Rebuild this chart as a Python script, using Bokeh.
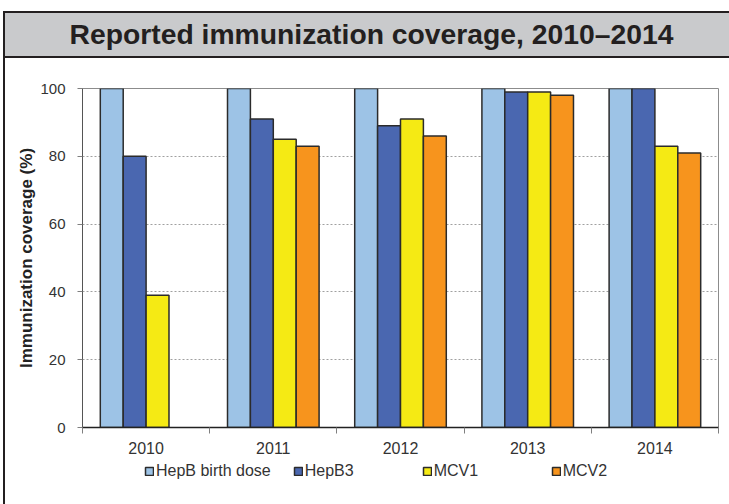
from bokeh.plotting import figure
from bokeh.models import ColumnDataSource, FixedTicker, Range1d, Legend, Div
from bokeh.layouts import column
from bokeh.transform import dodge
from bokeh.embed import file_html
from bokeh.resources import INLINE

# ---- data ----
years = ["2010", "2011", "2012", "2013", "2014"]
hepb_birth = [100, 100, 100, 100, 100]
hepb3 = [80, 91, 89, 99, 100]
mcv1 = [39, 85, 91, 99, 83]
mcv2 = [float("nan"), 83, 86, 98, 81]
series_names = ["HepB birth dose", "HepB3", "MCV1", "MCV2"]
y_ticks = [0, 20, 40, 60, 80, 100]

title_text = "Reported immunization coverage, 2010\u20132014"
y_title = "Immunization coverage (%)"

colors = ["#9dc3e6", "#4a67b0", "#f5ea14", "#f7941d"]
DARK = "#231f20"
EDGE = "#2b2b2b"
cols = ["hepb_birth", "hepb3", "mcv1", "mcv2"]
offsets = [-0.27, -0.09, 0.09, 0.27]


def left_rule(height):
    return {"background-color": "#ffffff",
            "background-image": "linear-gradient(#231f20, #231f20)",
            "background-size": "2px %dpx" % height,
            "background-position": "3px 0px",
            "background-repeat": "no-repeat"}


# ---- title banner (page y 0-58) ----
banner = Div(
    width=729, height=58, margin=0,
    text=('<div style="position:absolute;left:3px;top:11px;width:726px;'
          'height:47px;box-sizing:border-box;border:2px solid #231f20;'
          'border-right:none;background:#c9cacc;display:flex;'
          'align-items:center;justify-content:center;padding-left:9px;'
          "font-family:'Liberation Sans',Arial,sans-serif;font-weight:bold;"
          'font-size:28.3px;color:#231f20;white-space:nowrap;">'
          + title_text + '</div>'))

# ---- chart (page y 58-462) ----
xpos = [i + 0.5 for i in range(len(years))]
src = ColumnDataSource(dict(x=xpos, hepb_birth=hepb_birth, hepb3=hepb3,
                            mcv1=mcv1, mcv2=mcv2))

p = figure(width=729, height=404, output_backend="svg", toolbar_location=None,
           x_range=Range1d(0, len(years)), y_range=Range1d(0, 100),
           min_border_left=82, min_border_right=11, min_border_top=30,
           min_border_bottom=35, margin=0)
p.background_fill_color = "white"
p.border_fill_color = None
p.outline_line_color = "#8c8c8c"
p.outline_line_width = 1
p.styles = left_rule(404)

for col, off, c in zip(cols, offsets, colors):
    p.vbar(x=dodge("x", off, range=p.x_range), top=col, bottom=0,
           width=0.18, source=src, fill_color=c, line_color=EDGE,
           line_width=1.5)

xa = p.xaxis[0]
xa.ticker = FixedTicker(ticks=xpos, minor_ticks=list(range(len(years) + 1)))
xa.major_label_overrides = {x: y for x, y in zip(xpos, years)}
xa.major_tick_out = 0
xa.major_tick_in = 0
xa.minor_tick_out = 6
xa.minor_tick_in = 0
xa.minor_tick_line_color = "#7f7f7f"
xa.axis_line_color = "#222222"
xa.axis_line_width = 1.5
xa.major_label_text_font = "Liberation Sans"
xa.major_label_text_font_size = "16px"
xa.major_label_text_color = "#333333"
xa.major_label_standoff = 8

ya = p.yaxis[0]
ya.ticker = FixedTicker(ticks=y_ticks, minor_ticks=[])
ya.major_tick_out = 5
ya.major_tick_in = 0
ya.major_tick_line_color = "#7f7f7f"
ya.axis_line_color = "#555555"
ya.major_label_text_font = "Liberation Sans"
ya.major_label_text_font_size = "15px"
ya.major_label_text_color = "#333333"
ya.major_label_standoff = 12
ya.axis_label = y_title
ya.axis_label_text_font = "Liberation Sans"
ya.axis_label_text_font_style = "bold"
ya.axis_label_text_font_size = "17px"
ya.axis_label_text_color = "#222222"
ya.axis_label_standoff = 1

p.xgrid.grid_line_color = None
p.ygrid.grid_line_color = "#a0a0a0"
p.ygrid.grid_line_dash = "2 2"
p.ygrid.grid_line_width = 1

# ---- legend strip (page y 462-504) ----
# key renderers share the chart's data and style; they are hidden, only
# their legend swatches are drawn
lf = figure(width=729, height=42, output_backend="svg", toolbar_location=None,
            x_range=Range1d(-20, -10), y_range=Range1d(0, 1),
            x_axis_location=None, y_axis_location=None,
            min_border_left=0, min_border_right=0, min_border_top=0,
            min_border_bottom=0, margin=0)
lf.grid.visible = False
lf.outline_line_color = None
lf.background_fill_color = "white"
lf.border_fill_color = None
lf.styles = left_rule(42)
keys = []
for col, off, c in zip(cols, offsets, colors):
    r = lf.vbar(x=dodge("x", off, range=lf.x_range), top=col,
                bottom=0, width=0.18, source=src, fill_color=c,
                line_color=EDGE, line_width=1.5)
    r.visible = False
    keys.append(r)
lg = Legend(items=[(n, [r]) for n, r in zip(series_names, keys)],
            orientation="horizontal", location=(62, 24),
            border_line_alpha=0, background_fill_alpha=0, padding=0,
            margin=0, spacing=22, glyph_width=10, glyph_height=10,
            label_standoff=2, label_width=95, label_height=16,
            label_text_font="Liberation Sans", label_text_font_size="16px",
            label_text_color="#333333", inactive_fill_alpha=0)
lf.add_layout(lg, "center")

layout = column(banner, p, lf, spacing=0, margin=0)

open("out.html", "w").write(file_html(layout, INLINE))
